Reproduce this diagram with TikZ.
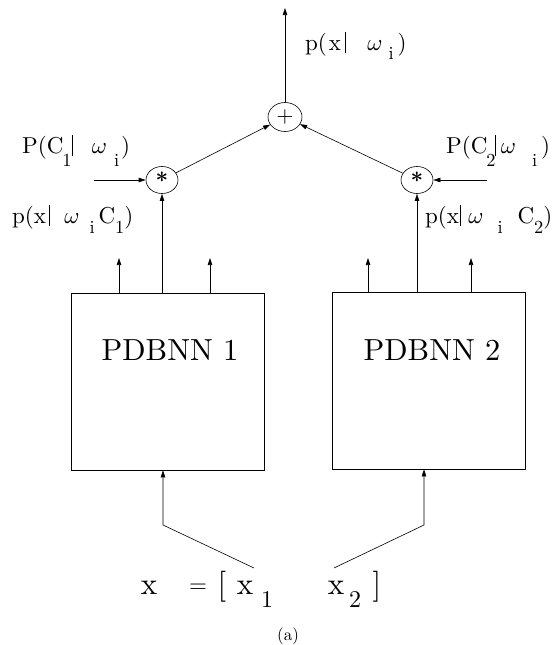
\documentclass[tikz,border=0pt]{standalone}
\usepackage{graphicx}
\usetikzlibrary{arrows.meta,shapes.geometric}

% Latin Modern at its 10pt design for every size (heavier strokes when enlarged)
\DeclareFontFamily{TU}{lmten}{}
\DeclareFontShape{TU}{lmten}{m}{n}{<-> "[lmroman10-regular]:+tlig;"}{}
\DeclareFontShape{TU}{lmten}{b}{n}{<-> "[lmroman10-bold]:+tlig;"}{}
\DeclareFontShape{TU}{lmten}{bx}{n}{<-> "[lmroman10-bold]:+tlig;"}{}
\renewcommand\rmdefault{lmten}
\DeclareFontShape{OML}{cmm}{m}{it}{<-> cmmi10}{}

% lowered, slightly reduced subscript used in the probability labels
\newcommand\lsub[2][0.45em]{\raisebox{-#1}{\scalebox{0.8}{#2}}}
% heavy conditioning bar
\newcommand\cbar{\rule[-0.12em]{1.3pt}{0.9em}}

\tikzset{
  wire/.style={line width=0.6pt},
  arr/.style={wire,-{Triangle[length=7pt,width=4.5pt]}},
  opnode/.style={draw,ellipse,line width=0.6pt,inner sep=0pt,minimum width=32pt,minimum height=27pt},
  netbox/.style={draw,line width=0.9pt,minimum width=193pt,minimum height=177pt,inner sep=0pt},
  problabel/.style={inner sep=0pt,font=\fontsize{23}{27}\selectfont},
  netlabel/.style={inner sep=0pt,font=\fontsize{30.5}{36}\selectfont},
  vecmain/.style={inner sep=0pt,font=\fontsize{31}{37}\selectfont},
  vecsub/.style={inner sep=0pt,font=\fontsize{24}{29}\selectfont},
}

\begin{document}
\begin{tikzpicture}[x=1pt,y=-1pt]
\useasboundingbox (0,0) rectangle (557,645);

% combining nodes
\node[opnode,minimum width=34pt,minimum height=29pt,font=\fontsize{22}{26}\selectfont] (plus) at (285,117) {+};
\node[opnode,font=\fontsize{22}{26}\selectfont\bfseries] (mul1) at (162,180) {\raisebox{-0.2em}{*}};
\node[opnode,font=\fontsize{22}{26}\selectfont\bfseries] (mul2) at (417,180) {\raisebox{-0.2em}{*}};

% the two networks
\node[netbox] (box1) at (167.5,381.5) {};
\node[netbox] (box2) at (428.5,380.5) {};
\node[netlabel] (name1) at (170,350) {PDBNN 1};
\node[netlabel] (name2) at (432,350) {PDBNN 2};

% labels
\node[problabel,anchor=base west] (ltop) at (305,50)
  {p(\hspace{2pt}x\hspace{4pt}\cbar\hspace{21pt}$\omega$\hspace{6pt}\lsub[0.4em]{i}\hspace{4pt})};
\node[problabel,anchor=base west] (lpc1) at (22,153)
  {P(C\kern-1pt\lsub[0.6em]{1}\cbar\hspace{19pt}$\omega$\hspace{7pt}\lsub[0.6em]{i}\hspace{2pt})};
\node[problabel,anchor=base west] (lpc2) at (446,153)
  {P(C\kern-1pt\lsub[0.6em]{2}\kern-1pt\cbar\hspace{5pt}$\omega$\hspace{16pt}\lsub[0.6em]{i}\hspace{4pt})};
\node[problabel,anchor=base west] (lpx1) at (12,223)
  {p(x\hspace{3pt}\cbar\hspace{14pt}$\omega$\hspace{10pt}\lsub{i}\hspace{4pt}C\lsub{1})};
\node[problabel,anchor=base west] (lpx2) at (425,223)
  {p(x\hspace{1pt}\cbar\hspace{7pt}$\omega$\hspace{14pt}\lsub{i}\hspace{15pt}C\lsub{2})};

% input vector
\node[vecmain,anchor=base] (vx)  at (149,594) {x};
\node[vecmain,anchor=base,font=\fontsize{23}{28}\selectfont] (veq) at (198,592) {=};
\node[vecmain,anchor=base] (vbl) at (222,594) {[};
\node[vecmain,anchor=base] (vx1) at (245,594) {x};
\node[vecsub,anchor=base]  (vs1) at (267,607) {1};
\node[vecmain,anchor=base] (vx2) at (336,594) {x};
\node[vecsub,anchor=base]  (vs2) at (355,607) {2};
\node[vecmain,anchor=base] (vbr) at (377,594) {]};

\node[inner sep=0pt,font=\fontsize{17}{20}\selectfont] (cap) at (288,636) {(a)};

% free ends of connectors
\coordinate (out) at (285,8);
\coordinate (pin1) at (94,180);
\coordinate (pin2) at (487,180);
\coordinate (o1a) at (119,258);
\coordinate (o1b) at (210,258);
\coordinate (o2a) at (368,258);
\coordinate (o2b) at (471,258);
\coordinate (in1) at (254,568);
\coordinate (in2) at (334,568);
\coordinate (k1) at (163,525);
\coordinate (k2) at (424,525);

% connectors
\draw[arr] (plus) -- (out);
\draw[arr] (mul1) -- (plus);
\draw[arr] (mul2) -- (plus);
\draw[arr] (pin1) -- (mul1);
\draw[arr] (pin2) -- (mul2);
\draw[arr] (mul1.south |- box1.north) -- (mul1);
\draw[arr] (mul2.south |- box2.north) -- (mul2);
\draw[arr] (o1a |- box1.north) -- (o1a);
\draw[arr] (o1b |- box1.north) -- (o1b);
\draw[arr] (o2a |- box2.north) -- (o2a);
\draw[arr] (o2b |- box2.north) -- (o2b);
\draw[arr] (in1) -- (k1) -- (k1 |- box1.south);
\draw[arr] (in2) -- (k2) -- (k2 |- box2.south);
\end{tikzpicture}
\end{document}
